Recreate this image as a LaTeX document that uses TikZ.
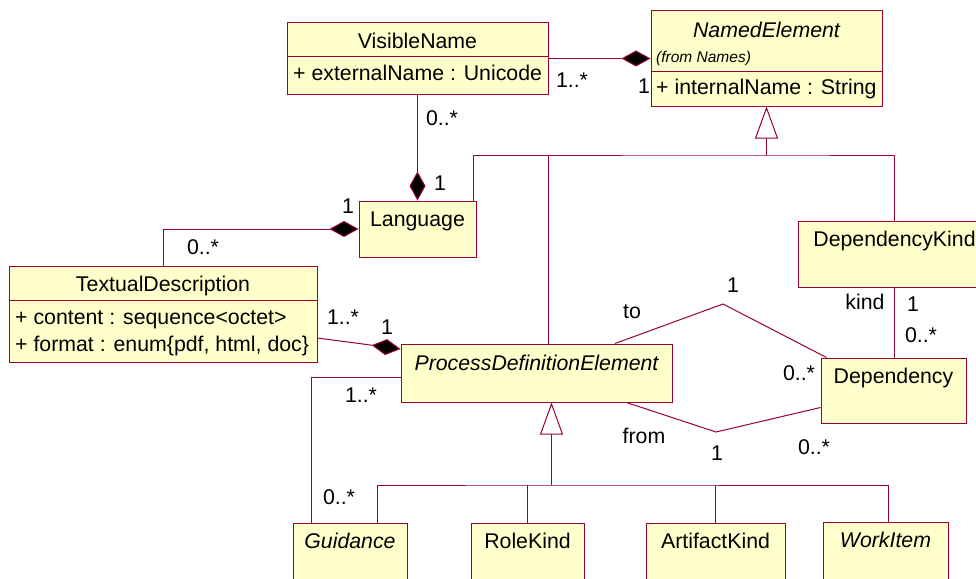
\documentclass[tikz,border=0pt]{standalone}
\usepackage{fontspec}
\setmainfont{Liberation Sans}
\usetikzlibrary{arrows.meta,calc}
\definecolor{umlline}{RGB}{153,0,51}
\definecolor{umlfill}{RGB}{255,255,204}

\begin{document}
\begin{tikzpicture}[
  x=1pt, y=-1pt,
  every node/.style={font=\fontsize{21.3}{25}\selectfont, inner sep=0pt},
  cls/.style={draw=umlline, fill=umlfill, line width=1pt},
  ctitle/.style={anchor=base},
  attr/.style={anchor=base west},
  mult/.style={text height=15pt, text depth=0pt},
  link/.style={draw=umlline, line width=1pt},
  comp/.style={link, -{Diamond[fill=black, length=29pt, width=16pt]}},
  inh/.style={link, -{Triangle[open, fill=white, length=32pt, width=23pt]}},
]
\useasboundingbox (0,0) rectangle (976,578);
\clip (0,0) rectangle (976,578);

% Classes
\node[cls, minimum width=261pt, minimum height=71pt] (vn) at (417.5,58.5) {};
\draw[link] (vn.west |- 0,57) -- (vn.east |- 0,57);
\node[ctitle] (vnT) at ([yshift=-26pt]vn.north) {VisibleName};
\node[attr] (vnA) at (293,80.5) {+ externalName : Unicode};

\node[cls, minimum width=231pt, minimum height=95pt] (ne) at (766.5,58.5) {};
\draw[link] (ne.west |- 0,71) -- (ne.east |- 0,71);
\node[ctitle, font=\fontsize{21.3}{25}\selectfont\itshape] (neT) at ([yshift=-27pt]ne.north) {NamedElement};
\node[attr, font=\fontsize{15.5}{18}\selectfont\itshape] (neF) at (656,62.5) {(from Names)};
\node[attr] (neA) at (656,94.5) {+ internalName : String};

\node[cls, minimum width=117pt, minimum height=56pt] (lang) at (417.5,229) {};
\node[ctitle] (langT) at ([yshift=-25.5pt]lang.north) {Language};

\node[cls, minimum width=308pt, minimum height=96pt] (td) at (163,314) {};
\draw[link] (td.west |- 0,300) -- (td.east |- 0,300);
\node[ctitle] (tdT) at ([yshift=-25.5pt]td.north) {TextualDescription};
\node[attr] (tdA1) at (15,324) {+ content : sequence<octet>};
\node[attr] (tdA2) at (15,351) {+ format : enum\{pdf, html, doc\}};

\node[cls, minimum width=271pt, minimum height=58pt] (pde) at (536.5,373) {};
\node[ctitle, font=\fontsize{21.3}{25}\selectfont\itshape] (pdeT) at ([yshift=-27pt]pde.north) {ProcessDefinitionElement};

\node[cls, minimum width=193pt, minimum height=66pt] (dk) at (894.5,254) {};
\node[ctitle] (dkT) at ([yshift=-26pt]dk.north) {DependencyKind};

\node[cls, minimum width=145pt, minimum height=65pt] (dep) at (893.5,390.5) {};
\node[ctitle] (depT) at ([yshift=-25.5pt]dep.north) {Dependency};

\node[cls, minimum width=114pt, minimum height=77pt] (gd) at (350,561.5) {};
\node[ctitle, font=\fontsize{21.3}{25}\selectfont\itshape] (gdT) at ([yshift=-25.5pt]gd.north) {Guidance};
\node[cls, minimum width=113pt, minimum height=77pt] (rk) at (527.5,561.5) {};
\node[ctitle] (rkT) at ([yshift=-25.5pt]rk.north) {RoleKind};
\node[cls, minimum width=139pt, minimum height=77pt] (ak) at (715.5,562) {};
\node[ctitle] (akT) at ([yshift=-25.5pt]ak.north) {ArtifactKind};
\node[cls, minimum width=125pt, minimum height=77pt] (wi) at (885.5,561) {};
\node[ctitle, font=\fontsize{21.3}{25}\selectfont\itshape] (wiT) at ([yshift=-25.5pt]wi.north) {WorkItem};

% Compositions
\draw[comp] (vn.east) -- (ne.west);
\draw[comp] (vn.south) -- (lang.north);
\draw[comp] (td.north) |- (lang.west);
\draw[comp] ([yshift=-24pt]td.east) -- ([yshift=24pt]pde.west);

% Associations
\draw[link] ([yshift=-4pt]pde.west) -| ([xshift=-39pt]gd.north);
\draw[link] (dk.south) -- (dk.south |- dep.north);
\coordinate (tostart) at ([xshift=78.5pt]pde.north);
\coordinate (tobend) at (723,304);
\coordinate (toend) at ([xshift=6pt]dep.north west);
\draw[link] (tostart) -- (tobend) -- (toend);
\coordinate (frstart) at ([xshift=90pt]pde.south);
\coordinate (frbend) at (716,432);
\coordinate (frend) at ([yshift=-17pt]dep.west);
\draw[link] (frstart) -- (frbend) -- (frend);

% Generalizations
\coordinate (nebus) at (ne.south |- 0,155);
\coordinate (langup) at ([xshift=-3pt]lang.north east);
\coordinate (pdeup) at ([xshift=11.5pt]pde.north);
\draw[inh] (nebus) -- (ne.south);
\draw[link] (langup) |- (nebus) -| (dk.north);
\draw[link] (pdeup) -- (pdeup |- nebus);

\coordinate (pdedn) at ([xshift=15pt]pde.south);
\coordinate (pdebus) at (pdedn |- 0,485);
\coordinate (gdup) at ([xshift=27pt]gd.north);
\coordinate (wiup) at ([xshift=2.5pt]wi.north);
\draw[inh] (pdebus) -- (pdedn);
\draw[link] (gdup) |- (pdebus) -| (wiup);
\draw[link] (rk.north) -- (rk.north |- pdebus);
\draw[link] (ak.north) -- (ak.north |- pdebus);

% Multiplicities and roles
\node[mult] (m1) at (572,80) {1..*};
\node[mult] (m2) at (644,86) {1};
\node[mult] (m3) at (442,118) {0..*};
\node[mult] (m4) at (440,183) {1};
\node[mult] (m5) at (348,206) {1};
\node[mult] (m6) at (203,247) {0..*};
\node[mult] (m7) at (343,317) {1..*};
\node[mult] (m8) at (387,327) {1};
\node[mult] (m9) at (361,395) {1..*};
\node[mult] (m10) at (339,497) {0..*};
\node[mult] (rto) at (632,311) {to};
\node[mult] (m11) at (733,285) {1};
\node[mult] (m12) at (799,373) {0..*};
\node[mult] (rfrom) at (644,436) {from};
\node[mult] (m13) at (717,453) {1};
\node[mult] (m14) at (814,447) {0..*};
\node[mult] (rkind) at (865,302) {kind};
\node[mult] (m15) at (913,304) {1};
\node[mult] (m16) at (921,335) {0..*};
\end{tikzpicture}
\end{document}
